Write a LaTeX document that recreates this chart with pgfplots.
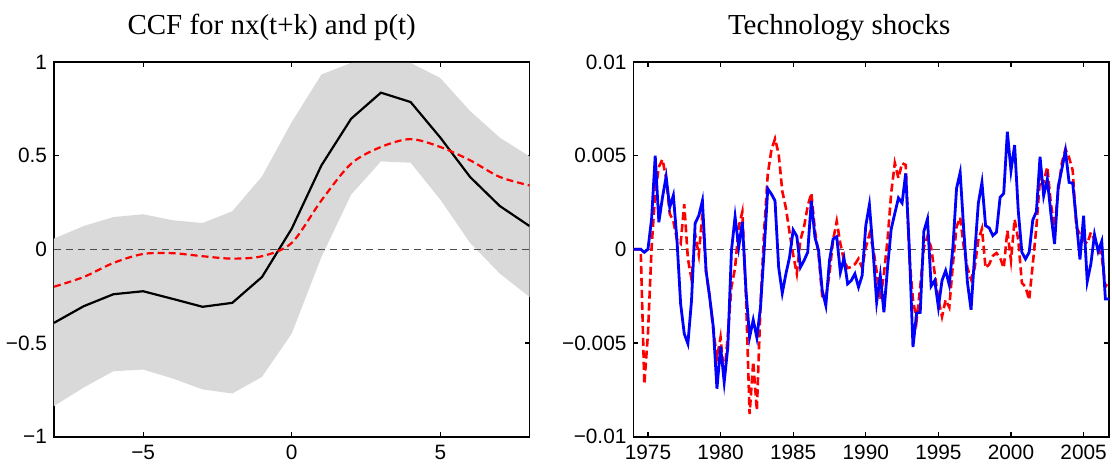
\documentclass[border=0pt]{standalone}
\usepackage{fontspec}
\setmainfont{Liberation Serif}
\newfontfamily\ticksf{Liberation Sans}
\usepackage{pgfplots}
\pgfplotsset{compat=1.18}

\pgfplotsset{
  matlab/.style={
    scale only axis,
    width=238pt, height=187.5pt,
    axis line style={line width=0.9pt},
    tick style={black, line width=0.6pt},
    major tick length=2.5pt,
    tick align=inside,
    tick label style={font=\ticksf\fontsize{10.4}{12}\selectfont},
    xticklabel style={anchor=north, inner sep=0pt, yshift=-4pt},
    title style={font=\fontsize{14.5}{16}\selectfont, at={(0.5,1)}, anchor=base, yshift=7.5pt, xshift=-10pt},
    scaled y ticks=false,
    clip=true,
  },
}

\begin{document}
\begin{tikzpicture}
\begin{axis}[matlab, name=L,
    title={CCF for nx(t+k) and p(t)},
    xmin=-8, xmax=8, ymin=-1, ymax=1,
    xtick={-5,0,5}, xticklabels={−5,0,5},
    ytick={-1,-0.5,0,0.5,1}, yticklabels={−1,−0.5,0,0.5,1},
]
% confidence band: upper bound then lower bound reversed
\addplot[fill=black!15, draw=none] coordinates {
    (-8,0.057) (-7,0.124) (-6,0.172) (-5,0.187) (-4,0.155) (-3,0.14)
    (-2,0.203) (-1,0.389) (0,0.679) (1,0.933) (2,0.995) (3,0.995)
    (4,0.995) (5,0.914) (6,0.738) (7,0.596) (8,0.496)
    (8,-0.254) (7,-0.13) (6,0.034) (5,0.265) (4,0.462) (3,0.469)
    (2,0.292) (1,-0.041) (0,-0.45) (-1,-0.681) (-2,-0.77) (-3,-0.748)
    (-4,-0.69) (-5,-0.642) (-6,-0.651) (-7,-0.738) (-8,-0.837)
};
\addplot[black!70, line width=0.75pt, dash pattern=on 3.5pt off 2.5pt] coordinates {(-8,0) (8,0)};
\addplot[black, line width=1.1pt] coordinates {
    (-8,-0.393) (-7,-0.304) (-6,-0.24) (-5,-0.224) (-4,-0.265) (-3,-0.307)
    (-2,-0.286) (-1,-0.148) (0,0.11) (1,0.448) (2,0.697) (3,0.836)
    (4,0.786) (5,0.596) (6,0.386) (7,0.231) (8,0.124)
};
\addplot[red, line width=1.1pt, dash pattern=on 3.5pt off 2pt, smooth, tension=0.5] coordinates {
    (-8,-0.2) (-7,-0.148) (-6,-0.073) (-5,-0.025) (-4,-0.021) (-3,-0.037)
    (-2,-0.05) (-1,-0.037) (0,0.034) (1,0.261) (2,0.457) (3,0.546)
    (4,0.588) (5,0.546) (6,0.475) (7,0.386) (8,0.341)
};
\end{axis}

\begin{axis}[matlab, name=R, xshift=290pt,
    title={Technology shocks},
    title style={xshift=-6pt},
    xmin=1974, xmax=2006.75, ymin=-0.01, ymax=0.01,
    xtick={1975,1980,1985,1990,1995,2000,2005},
    xticklabels={1975,1980,1985,1990,1995,2000,2005},
    ytick={-0.01,-0.005,0,0.005,0.01},
    yticklabels={−0.01,−0.005,0,0.005,0.01},
    y filter/.expression={y/1000},
]
\addplot[black!70, line width=0.75pt, dash pattern=on 3.5pt off 2.5pt] coordinates {(1974,0) (2006.75,0)};
% model-implied series (values in 1e-3)
\addplot[red, line width=1.3pt, dash pattern=on 4pt off 2pt] coordinates {
    (1974.00,0) (1974.25,0) (1974.50,0) (1974.75,-7.2)
    (1975.00,-4.5) (1975.25,0.1) (1975.50,3.0) (1975.75,4.4)
    (1976.00,4.8) (1976.25,3.8) (1976.50,1.9) (1976.75,1.5)
    (1977.00,0.5) (1977.25,0.3) (1977.50,2.4) (1977.75,-0.5)
    (1978.00,-1.6) (1978.25,0.8) (1978.50,-0.3) (1978.75,1.9)
    (1979.00,-1.2) (1979.25,-2.5) (1979.50,-4.3) (1979.75,-5.8)
    (1980.00,-4.7) (1980.25,-6.8) (1980.50,-4.6) (1980.75,-2.0)
    (1981.00,-1.0) (1981.25,1.2) (1981.50,2.0) (1981.75,-2.5)
    (1982.00,-8.8) (1982.25,-6.0) (1982.50,-8.6) (1982.75,-3.0)
    (1983.00,1.0) (1983.25,4.0) (1983.50,5.3) (1983.75,5.9)
    (1984.00,5.1) (1984.25,3.1) (1984.50,2.2) (1984.75,0.9)
    (1985.00,-0.3) (1985.25,-1.3) (1985.50,0.5) (1985.75,1.2)
    (1986.00,2.3) (1986.25,3.0) (1986.50,1.0) (1986.75,-0.3)
    (1987.00,-2.5) (1987.25,-2.6) (1987.50,-1.3) (1987.75,0.5)
    (1988.00,1.5) (1988.25,0.3) (1988.50,-0.6) (1988.75,-1.0)
    (1989.00,-0.95) (1989.25,-0.8) (1989.50,-0.5) (1989.75,-1.0)
    (1990.00,0.1) (1990.25,0.8) (1990.50,0.1) (1990.75,-1.2)
    (1991.00,-2.7) (1991.25,-1.3) (1991.50,0.5) (1991.75,3.0)
    (1992.00,4.6) (1992.25,3.8) (1992.50,4.6) (1992.75,4.5)
    (1993.00,-0.4) (1993.25,-2.7) (1993.50,-3.8) (1993.75,-2.0)
    (1994.00,0.1) (1994.25,0.7) (1994.50,0.1) (1994.75,-1.3)
    (1995.00,-2.7) (1995.25,-3.6) (1995.50,-2.7) (1995.75,-3.1)
    (1996.00,-0.8) (1996.25,1.2) (1996.50,1.7) (1996.75,0.1)
    (1997.00,-1.0) (1997.25,-1.6) (1997.50,-1.0) (1997.75,0.5)
    (1998.00,1.1) (1998.25,-1.0) (1998.50,-0.8) (1998.75,-0.35)
    (1999.00,-0.2) (1999.25,-0.45) (1999.50,-1.0) (1999.75,1.0)
    (2000.00,-0.6) (2000.25,1.6) (2000.50,0.5) (2000.75,-1.8)
    (2001.00,-2.0) (2001.25,-2.7) (2001.50,-0.8) (2001.75,1.2)
    (2002.00,3.8) (2002.25,3.6) (2002.50,4.4) (2002.75,2.4)
    (2003.00,1.2) (2003.25,3.1) (2003.50,4.6) (2003.75,5.35)
    (2004.00,4.9) (2004.25,4.2) (2004.50,1.2) (2004.75,0.8)
    (2005.00,0.5) (2005.25,0.3) (2005.50,0.9) (2005.75,0.5)
    (2006.00,0.1) (2006.25,-0.4) (2006.50,-2.0) (2006.75,-1.7)
};
% estimated shocks (values in 1e-3)
\addplot[blue, line width=1.4pt] coordinates {
    (1974.00,0) (1974.25,0) (1974.50,0) (1974.75,-0.16)
    (1975.00,0) (1975.25,1.62) (1975.50,4.99) (1975.75,1.44)
    (1976.00,2.77) (1976.25,3.87) (1976.50,2.24) (1976.75,2.88)
    (1977.00,0.46) (1977.25,-2.91) (1977.50,-4.51) (1977.75,-5.04)
    (1978.00,-2.74) (1978.25,1.39) (1978.50,1.79) (1978.75,2.59)
    (1979.00,-1.14) (1979.25,-2.56) (1979.50,-4.16) (1979.75,-7.44)
    (1980.00,-5.19) (1980.25,-7.09) (1980.50,-5.22) (1980.75,-0.07)
    (1981.00,1.74) (1981.25,0.11) (1981.50,1.46) (1981.75,-2.2)
    (1982.00,-4.69) (1982.25,-3.77) (1982.50,-4.72) (1982.75,-3.09)
    (1983.00,-0.07) (1983.25,3.23) (1983.50,2.95) (1983.75,2.59)
    (1984.00,-0.96) (1984.25,-2.34) (1984.50,-1.31) (1984.75,-0.43)
    (1985.00,1.03) (1985.25,0.7) (1985.50,-0.96) (1985.75,-0.6)
    (1986.00,-0.16) (1986.25,2.59) (1986.50,0.64) (1986.75,-0.07)
    (1987.00,-2.2) (1987.25,-3.0) (1987.50,-0.6) (1987.75,0.55)
    (1988.00,0.67) (1988.25,-1.23) (1988.50,-0.48) (1988.75,-1.85)
    (1989.00,-1.67) (1989.25,-1.31) (1989.50,-2.02) (1989.75,-1.4)
    (1990.00,1.26) (1990.25,2.38) (1990.50,-0.07) (1990.75,-2.82)
    (1991.00,-1.4) (1991.25,-3.36) (1991.50,-0.96) (1991.75,1.08)
    (1992.00,1.92) (1992.25,2.74) (1992.50,2.47) (1992.75,4.05)
    (1993.00,0.02) (1993.25,-5.22) (1993.50,-3.41) (1993.75,-3.37)
    (1994.00,0.96) (1994.25,1.62) (1994.50,-1.97) (1994.75,-1.67)
    (1995.00,-3.09) (1995.25,-1.67) (1995.50,-1.14) (1995.75,-1.9)
    (1996.00,0.1) (1996.25,3.25) (1996.50,4.1) (1996.75,0.99)
    (1997.00,-1.76) (1997.25,-3.23) (1997.50,-0.25) (1997.75,2.45)
    (1998.00,3.57) (1998.25,1.26) (1998.50,1.14) (1998.75,0.73)
    (1999.00,0.91) (1999.25,2.77) (1999.50,2.98) (1999.75,6.27)
    (2000.00,4.19) (2000.25,5.56) (2000.50,2.06) (2000.75,-0.16)
    (2001.00,-0.52) (2001.25,-0.16) (2001.50,1.56) (2001.75,2.01)
    (2002.00,4.94) (2002.25,2.86) (2002.50,3.75) (2002.75,1.88)
    (2003.00,0.28) (2003.25,3.34) (2003.50,4.28) (2003.75,5.26)
    (2004.00,3.57) (2004.25,3.53) (2004.50,1.53) (2004.75,-0.55)
    (2005.00,1.79) (2005.25,-1.72) (2005.50,-0.78) (2005.75,0.78)
    (2006.00,-0.11) (2006.25,0.43) (2006.50,-2.65) (2006.75,-2.65)
};
\end{axis}
% fix the page margins to those of the reference figure
\pgfresetboundingbox
\path ([shift={(-27pt,-14.5pt)}]L.south west) rectangle ([shift={(1.5pt,31pt)}]R.north east);
\end{tikzpicture}
\end{document}
